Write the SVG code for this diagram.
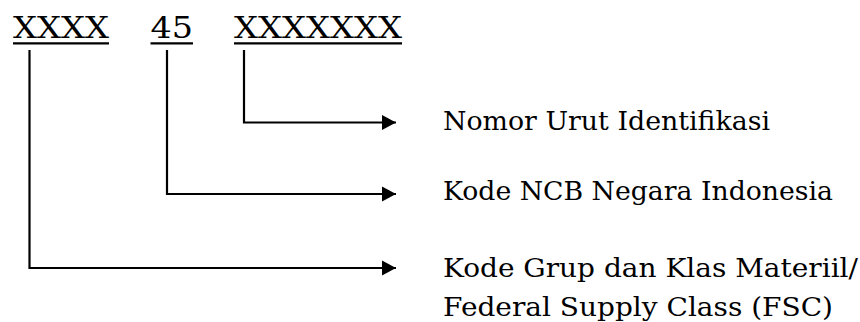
<svg xmlns="http://www.w3.org/2000/svg" width="860" height="322" viewBox="0 0 860 322">
  <style>
    .code { font-family: "DejaVu Serif", "Liberation Serif", serif; font-size: 29px; fill: #000; }
    .lbl { font-family: "DejaVu Serif", "Liberation Serif", serif; font-size: 25.5px; fill: #000; }
    .ul { stroke: #000; stroke-width: 2.2; fill: none; }
    .conn { stroke: #000; stroke-width: 2.2; fill: none; }
  </style>
  <defs>
    <marker id="arr" markerUnits="userSpaceOnUse" markerWidth="16" markerHeight="16" refX="15" refY="8" orient="auto">
      <path d="M1,0.5 L15,8 L1,15.5 Z" fill="#000"/>
    </marker>
  </defs>
  <rect width="860" height="322" fill="#fff"/>

  <g id="code-group">
    <text class="code" x="13" y="38" textLength="96" lengthAdjust="spacingAndGlyphs">XXXX</text>
    <line class="ul" x1="13" y1="43.3" x2="109" y2="43.3"/>
  </g>
  <g id="code-ncb">
    <text class="code" x="150.5" y="38" textLength="42.5" lengthAdjust="spacingAndGlyphs">45</text>
    <line class="ul" x1="150.5" y1="43.3" x2="193" y2="43.3"/>
  </g>
  <g id="code-seq">
    <text class="code" x="234" y="38" textLength="168" lengthAdjust="spacingAndGlyphs">XXXXXXX</text>
    <line class="ul" x1="234" y1="43.3" x2="402" y2="43.3"/>
  </g>

  <g id="label-seq">
    <text class="lbl" x="443" y="130" textLength="327" lengthAdjust="spacingAndGlyphs">Nomor Urut Identifikasi</text>
  </g>
  <g id="label-ncb">
    <text class="lbl" x="443" y="199.5" textLength="390" lengthAdjust="spacingAndGlyphs">Kode NCB Negara Indonesia</text>
  </g>
  <g id="label-fsc">
    <text class="lbl" x="443" y="276.5" textLength="415" lengthAdjust="spacingAndGlyphs">Kode Grup dan Klas Materiil/</text>
    <text class="lbl" x="443" y="315.5" textLength="390" lengthAdjust="spacingAndGlyphs">Federal Supply Class (FSC)</text>
  </g>

  <g id="connectors">
    <path class="conn" d="M244,50 V122.5 H396" marker-end="url(#arr)"/>
    <path class="conn" d="M167,50 V194 H396" marker-end="url(#arr)"/>
    <path class="conn" d="M29.5,50 V268 H396" marker-end="url(#arr)"/>
  </g>
</svg>
